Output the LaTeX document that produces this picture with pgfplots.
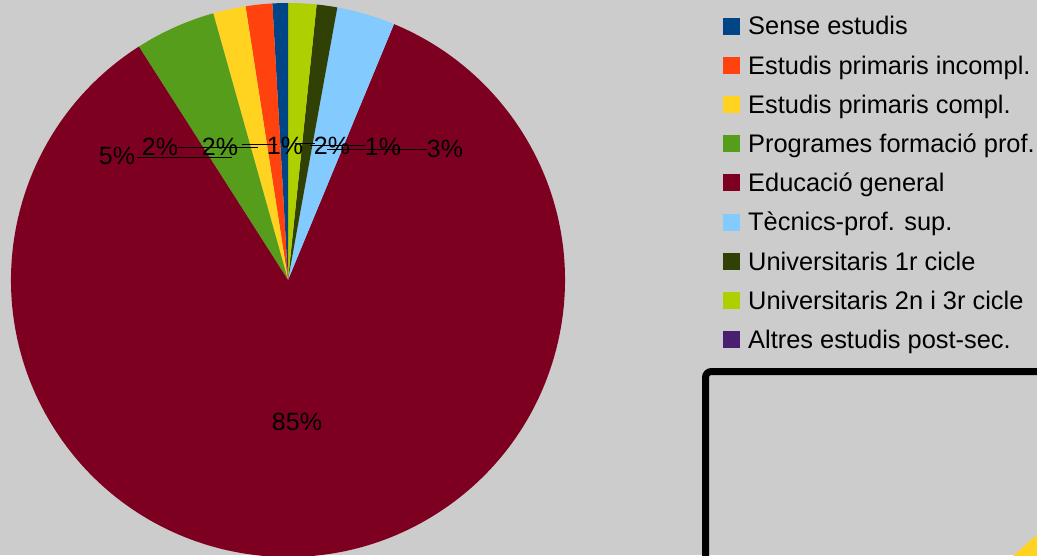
\documentclass[border=0pt]{standalone}
\usepackage{pgfplots}
\usepackage{pgfplotstable}
\pgfplotsset{compat=1.18}
\usepackage{fontspec}
\setmainfont{Liberation Sans}

\definecolor{bg}{HTML}{CCCCCC}
\definecolor{c1}{HTML}{004586}
\definecolor{c2}{HTML}{FF420E}
\definecolor{c3}{HTML}{FFD320}
\definecolor{c4}{HTML}{579D1C}
\definecolor{c5}{HTML}{7E0021}
\definecolor{c6}{HTML}{83CAFF}
\definecolor{c7}{HTML}{314004}
\definecolor{c8}{HTML}{AECF00}
\definecolor{c9}{HTML}{4B1F6F}

% share of each level of studies, in percent (slices run anticlockwise from the top)
\pgfplotstableread[col sep=comma]{
name,value,color
Sense estudis,0.9,c1
Estudis primaris incompl.,1.55,c2
Estudis primaris compl.,1.9,c3
Programes formació prof.,4.7,c4
Educació general,84.7,c5
Tècnics-prof. sup.,3.4,c6
Universitaris 1r cicle,1.2,c7
Universitaris 2n i 3r cicle,1.65,c8
Altres estudis post-sec.,0.0,c9
}\piedata

\pgfplotsset{
  sq/.style={legend image code/.code={\fill[#1] (0pt,-3pt) rectangle (8pt,5pt);}},
}

\begin{document}
\begin{tikzpicture}
\fill[bg] (0,0) rectangle (518.5pt,277.5pt);
\begin{axis}[
  hide axis,
  scale only axis,
  width=518.5pt, height=277.5pt,
  xmin=0, xmax=1037, ymin=0, ymax=555,
  y dir=reverse,
  clip=false,
  legend cell align=left,
  legend style={
    at={(axis cs:723,15)}, anchor=north west,
    draw=none, fill=none, inner sep=0pt,
    font=\fontsize{12.7}{15}\selectfont,
    nodes={inner sep=0pt, text height=9.7pt, text depth=2.8pt},
    row sep=7.1pt, column sep=4pt,
  },
]
% pie slices from the table
\pgfplotstablegetrowsof{\piedata}
\pgfmathtruncatemacro\lastrow{\pgfplotsretval-1}
\gdef\startangle{90}
\pgfplotsinvokeforeach{0,...,\lastrow}{
  \pgfplotstablegetelem{#1}{value}\of\piedata \let\v\pgfplotsretval
  \pgfplotstablegetelem{#1}{color}\of\piedata \let\c\pgfplotsretval
  \pgfmathsetmacro\endangle{\startangle+3.6*\v}
  \edef\doslice{\noexpand\fill[\c] (axis cs:288,280) -- ++(\startangle:138.5pt)
    arc[start angle=\startangle, end angle=\endangle, radius=138.5pt] -- cycle;}
  \doslice
  \global\let\startangle\endangle
}

% leader lines
\addplot[black, line width=0.5pt, forget plot] coordinates {(137,157) (232,157)};
\addplot[black, line width=0.5pt, forget plot] coordinates {(178,147) (258,147)};
\addplot[black, line width=0.5pt, forget plot] coordinates {(242,144) (277,144)};
\addplot[black, line width=0.5pt, forget plot] coordinates {(295,143) (315,143)};
\addplot[black, line width=0.5pt, forget plot] coordinates {(310,145) (365,145)};
\addplot[black, line width=0.5pt, forget plot] coordinates {(327,149) (427,149)};

% percentage labels
\begin{scope}[every node/.style={font=\fontsize{12.5}{15}\selectfont, inner sep=0pt}]
\node at (axis cs:117,156) {5\%};
\node at (axis cs:160,147) {2\%};
\node at (axis cs:220,147) {2\%};
\node at (axis cs:285,146) {1\%};
\node at (axis cs:332,146) {2\%};
\node at (axis cs:383,147) {1\%};
\node at (axis cs:445,149) {3\%};
\node at (axis cs:297,422) {85\%};
\end{scope}

% frame of the neighbouring chart, cut by the edge
\draw[line width=3.5pt, rounded corners=3pt] (axis cs:705.5,620) -- (axis cs:705.5,371.5) -- (axis cs:1100,371.5);
\fill[c3] (axis cs:1013,556) -- (axis cs:1040,532) -- (axis cs:1040,556) -- cycle;

\addlegendimage{sq=c1}\addlegendentry{Sense estudis}
\addlegendimage{sq=c2}\addlegendentry{Estudis primaris incompl.}
\addlegendimage{sq=c3}\addlegendentry{Estudis primaris compl.}
\addlegendimage{sq=c4}\addlegendentry{Programes formació prof.}
\addlegendimage{sq=c5}\addlegendentry{Educació general}
\addlegendimage{sq=c6}\addlegendentry{Tècnics-prof. sup.}
\addlegendimage{sq=c7}\addlegendentry{Universitaris 1r cicle}
\addlegendimage{sq=c8}\addlegendentry{Universitaris 2n i 3r cicle}
\addlegendimage{sq=c9}\addlegendentry{Altres estudis post-sec.}

\coordinate (BL) at (axis cs:0,555);
\coordinate (TR) at (axis cs:1037,0);
\end{axis}
\pgfresetboundingbox
\path[use as bounding box] (BL) rectangle (TR);
\end{tikzpicture}
\end{document}
